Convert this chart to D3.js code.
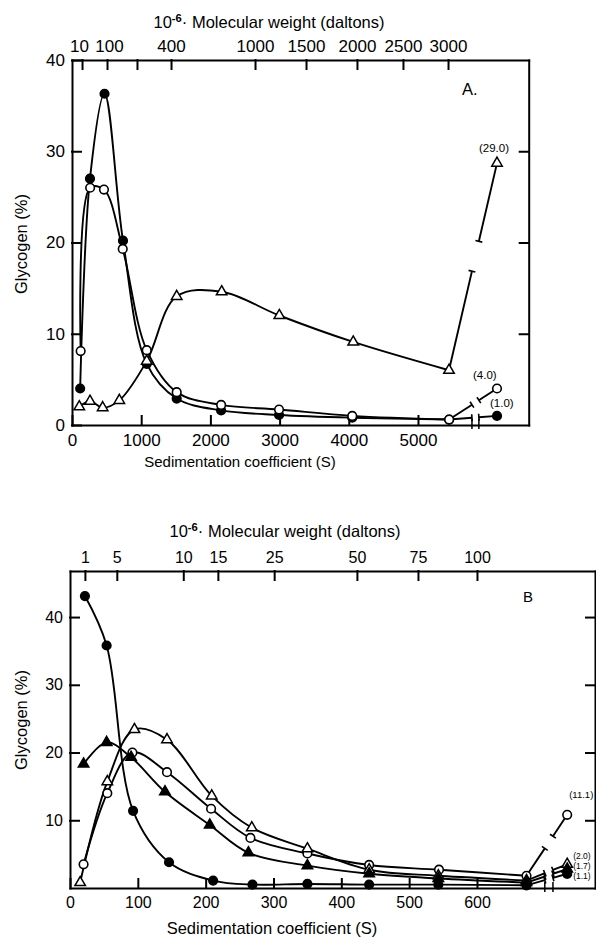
<!DOCTYPE html>
<html>
<head>
<meta charset="utf-8">
<script src="https://cdn.jsdelivr.net/npm/d3@7"></script>
<style>
body { margin: 0; background: #fff; }
svg { display: block; }
.axis path, .axis line { stroke: #000; stroke-width: 2; stroke-linecap: square; }
.axis text { font-family: "Liberation Sans", Arial, sans-serif; fill: #000; }
text { font-family: "Liberation Sans", Arial, sans-serif; fill: #000; }
</style>
</head>
<body>
<script>
// ---- panel A ----
var sFilledA = [118, 260, 470, 737, 1080, 1513, 2155, 2992, 4050, 5450];
var filledA  = [4.0, 27.0, 36.3, 20.2, 6.7, 2.9, 1.6, 1.1, 0.8, 0.6];
var sOpenA   = [125, 262, 462, 733, 1080, 1513, 2155, 2992, 4050, 5450];
var openA    = [8.1, 26.0, 25.8, 19.3, 8.2, 3.6, 2.2, 1.7, 1.0, 0.6];
var sTriA    = [105, 260, 443, 684, 1080, 1513, 2163, 2996, 4064, 5448];
var triA     = [2.0, 2.6, 1.9, 2.7, 7.0, 14.1, 14.6, 12.0, 9.1, 6.0];
var postA    = [1.0, 4.0, 28.7];          // values after the axis break
var postLabelsA = ['(1.0)', '(4.0)', '(29.0)'];
var xTicksA  = [0, 1000, 2000, 3000, 4000, 5000];
var yTicksA  = [0, 10, 20, 30, 40];
var mwLabelsA = ['10', '100', '', '400', '1000', '1500', '2000', '2500', '3000'];
var mwSA      = [145, 506, 939, 1431, 2645, 3382, 4118, 4783, 5434];

// ---- panel B ----
var sFilledB  = [22, 54, 93, 146, 211, 269, 350, 441, 543, 673];
var filledB   = [43.1, 35.8, 11.4, 3.8, 1.1, 0.5, 0.6, 0.5, 0.5, 0.4];
var sOpenB    = [20, 55, 92, 143, 208, 266, 350, 441, 544, 673];
var openB     = [3.5, 14.0, 20.0, 17.1, 11.7, 7.4, 5.1, 3.4, 2.7, 1.8];
var sTriB     = [15, 55, 95, 143, 209, 268, 350, 441, 543, 673];
var triB      = [0.8, 15.7, 23.4, 21.9, 13.6, 8.9, 5.8, 2.7, 1.8, 1.1];
var sTriFillB = [20, 54, 90, 140, 206, 263, 350, 441, 543, 673];
var triFillB  = [18.3, 21.5, 19.3, 14.2, 9.3, 5.2, 3.3, 2.1, 1.4, 0.8];
var postB     = [2.1, 10.8, 3.5, 2.8];
var postLabelsB = ['(1.1)', '(11.1)', '(2.0)', '(1.7)'];
var xTicksB  = [0, 100, 200, 300, 400, 500, 600];
var yTicksB  = [10, 20, 30, 40];
var mwLabelsB = ['1', '5', '10', '15', '25', '50', '75', '100'];
var mwSB      = [22, 69, 167, 218, 301, 423, 513, 600];

var svg = d3.select('body').append('svg').attr('width', 596).attr('height', 938);

function marker(sel, type) {
    if (type == 'filledCircle' || type == 'openCircle') {
        sel.append('circle').attr('r', 4.3)
            .attr('fill', type == 'filledCircle' ? '#000' : '#fff')
            .attr('stroke', '#000').attr('stroke-width', 1.6);
    } else {
        sel.append('path').attr('d', d3.symbol().type(d3.symbolTriangle).size(48)())
            .attr('fill', type == 'filledTri' ? '#000' : '#fff')
            .attr('stroke', '#000').attr('stroke-width', 1.5);
    }
}

function drawPanel(cfg) {
    var x = d3.scaleLinear().domain(cfg.xDomain).range(cfg.xRange);
    var y = d3.scaleLinear().domain(cfg.yDomain).range(cfg.yRange);
    var g = svg.append('g');
    var y0 = cfg.yRange[0], yTop = cfg.yRange[1];

    var bottom = g.append('g').attr('class', 'axis').attr('transform', 'translate(0,' + y0 + ')')
        .call(d3.axisBottom(x).tickValues(cfg.xTicks).tickFormat(d3.format('d'))
            .tickSizeInner(-9).tickSizeOuter(0).tickPadding(9));
    bottom.selectAll('text').style('font-size', cfg.tickFont + 'px');

    var top = g.append('g').attr('class', 'axis').attr('transform', 'translate(0,' + yTop + ')')
        .call(d3.axisTop(x).tickValues(cfg.mwS).tickFormat(function(d, i) { return cfg.mwLabels[i]; })
            .tickSizeInner(-9).tickSizeOuter(0).tickPadding(8));
    top.selectAll('text').style('font-size', cfg.tickFont + 'px')
        .attr('dx', function(d, i) { return cfg.mwNudge ? cfg.mwNudge[i] || 0 : 0; });

    var left = g.append('g').attr('class', 'axis').attr('transform', 'translate(' + cfg.xRange[0] + ',0)')
        .call(d3.axisLeft(y).tickValues(cfg.yTicks).tickSizeInner(-9).tickSizeOuter(0).tickPadding(7));
    left.selectAll('text').style('font-size', cfg.tickFont + 'px');

    g.append('g').attr('class', 'axis').attr('transform', 'translate(' + cfg.xRange[1] + ',0)')
        .call(d3.axisRight(y).tickValues(cfg.yTicksRight).tickSizeInner(-9).tickSizeOuter(0).tickFormat(''));

    // break marks on the bottom axis
    [cfg.gap[0], cfg.gap[1]].forEach(function(s) {
        g.append('line').attr('x1', x(s)).attr('x2', x(s)).attr('y1', y0 - 6).attr('y2', y0 + 4)
            .attr('stroke', '#000').attr('stroke-width', 1.5);
    });

    var line = d3.line()
        .x(function(d) { return x(d[0]); })
        .y(function(d) { return y(d[1]); })
        .curve(d3.curveCatmullRom.alpha(0.5));

    cfg.series.forEach(function(sr) {
        var pts = sr.s.map(function(s, i) { return [s, sr.v[i]]; });
        g.append('path').attr('d', line(pts)).attr('fill', 'none')
            .attr('stroke', '#000').attr('stroke-width', 1.9);

        // straight run across the break to the off-scale point
        var last = pts[pts.length - 1], post = [cfg.postS, sr.post];
        function at(s) { return [s, last[1] + (s - last[0]) / (post[0] - last[0]) * (post[1] - last[1])]; }
        var a = at(cfg.gap[0]), b = at(cfg.gap[1]);
        [[last, a], [b, post]].forEach(function(seg) {
            g.append('line').attr('x1', x(seg[0][0])).attr('y1', y(seg[0][1]))
                .attr('x2', x(seg[1][0])).attr('y2', y(seg[1][1]))
                .attr('stroke', '#000').attr('stroke-width', 1.9);
        });
        [a, b].forEach(function(p) {
            var dx = x(post[0]) - x(last[0]), dy = y(post[1]) - y(last[1]);
            var len = Math.sqrt(dx * dx + dy * dy), nx = -dy / len * 3.5, ny = dx / len * 3.5;
            g.append('line').attr('x1', x(p[0]) - nx).attr('y1', y(p[1]) - ny)
                .attr('x2', x(p[0]) + nx).attr('y2', y(p[1]) + ny)
                .attr('stroke', '#000').attr('stroke-width', 1.6);
        });
    });

    cfg.series.forEach(function(sr, k) {
        sr.s.forEach(function(s, i) {
            marker(g.append('g').attr('transform', 'translate(' + x(s) + ',' + y(sr.v[i]) + ')'), sr.type);
        });
        marker(g.append('g').attr('transform', 'translate(' + x(cfg.postS) + ',' + y(sr.post) + ')'), sr.type);
        g.append('text').attr('x', x(cfg.postS) + cfg.labelOff[k][0]).attr('y', y(sr.post) + cfg.labelOff[k][1])
            .style('font-size', cfg.labelFont[k] + 'px').text(sr.label);
    });

    // titles
    var mw = g.append('text').attr('x', cfg.mwTitle[0]).attr('y', cfg.mwTitle[1])
        .attr('text-anchor', 'middle').style('font-size', cfg.titleFont + 'px');
    mw.append('tspan').text('10');
    mw.append('tspan').attr('dy', -6).style('font-size', (cfg.titleFont * 0.68) + 'px').style('font-weight', 'bold').text('-6');
    mw.append('tspan').attr('dy', 6).text('\u00b7 Molecular weight (daltons)');

    g.append('text').attr('x', cfg.xTitle[0]).attr('y', cfg.xTitle[1]).attr('text-anchor', 'middle')
        .style('font-size', cfg.xTitleFont + 'px').text('Sedimentation coefficient (S)');
    g.append('text').attr('transform', 'translate(' + cfg.yTitle[0] + ',' + cfg.yTitle[1] + ') rotate(-90)')
        .attr('text-anchor', 'middle').style('font-size', cfg.titleFont + 'px').text('Glycogen (%)');
    g.append('text').attr('x', cfg.tag[0]).attr('y', cfg.tag[1]).style('font-size', cfg.tagFont + 'px').text(cfg.tagText);
}

drawPanel({
    xDomain: [0, 6600], xRange: [72, 528.7],
    yDomain: [0, 40], yRange: [425, 60],
    xTicks: xTicksA, yTicks: yTicksA, yTicksRight: [10, 20, 30],
    mwS: mwSA, mwLabels: mwLabelsA, mwNudge: [-3, 2],
    gap: [5780, 5880], postS: 6142,
    series: [
        { s: sFilledA, v: filledA, type: 'filledCircle', post: postA[0], label: postLabelsA[0] },
        { s: sOpenA, v: openA, type: 'openCircle', post: postA[1], label: postLabelsA[1] },
        { s: sTriA, v: triA, type: 'openTri', post: postA[2], label: postLabelsA[2] }
    ],
    labelOff: [[-7, -9], [-24, -10], [-18, -11]],
    labelFont: [11.5, 11.5, 11.5],
    tickFont: 17, titleFont: 16.5, xTitleFont: 15, tagFont: 16.5,
    mwTitle: [269, 28], xTitle: [240, 467], yTitle: [27, 244],
    tag: [462, 95], tagText: 'A.'
});

drawPanel({
    xDomain: [0, 774], xRange: [70, 595],
    yDomain: [0, 46.8], yRange: [888, 571],
    xTicks: xTicksB, yTicks: yTicksB, yTicksRight: [10, 20, 30, 40],
    mwS: mwSB, mwLabels: mwLabelsB,
    gap: [700, 712], postS: 733,
    series: [
        { s: sFilledB, v: filledB, type: 'filledCircle', post: postB[0], label: postLabelsB[0] },
        { s: sOpenB, v: openB, type: 'openCircle', post: postB[1], label: postLabelsB[1] },
        { s: sTriB, v: triB, type: 'openTri', post: postB[2], label: postLabelsB[2] },
        { s: sTriFillB, v: triFillB, type: 'filledTri', post: postB[3], label: postLabelsB[3] }
    ],
    labelOff: [[6, 5], [2, -17], [6, -5], [6, 0]],
    labelFont: [8.5, 9.5, 8.5, 8.5],
    tickFont: 16, titleFont: 16.5, xTitleFont: 16.5, tagFont: 15,
    mwTitle: [285, 537], xTitle: [272, 934], yTitle: [27, 720],
    tag: [523, 602], tagText: 'B'
});
</script>
</body>
</html>
